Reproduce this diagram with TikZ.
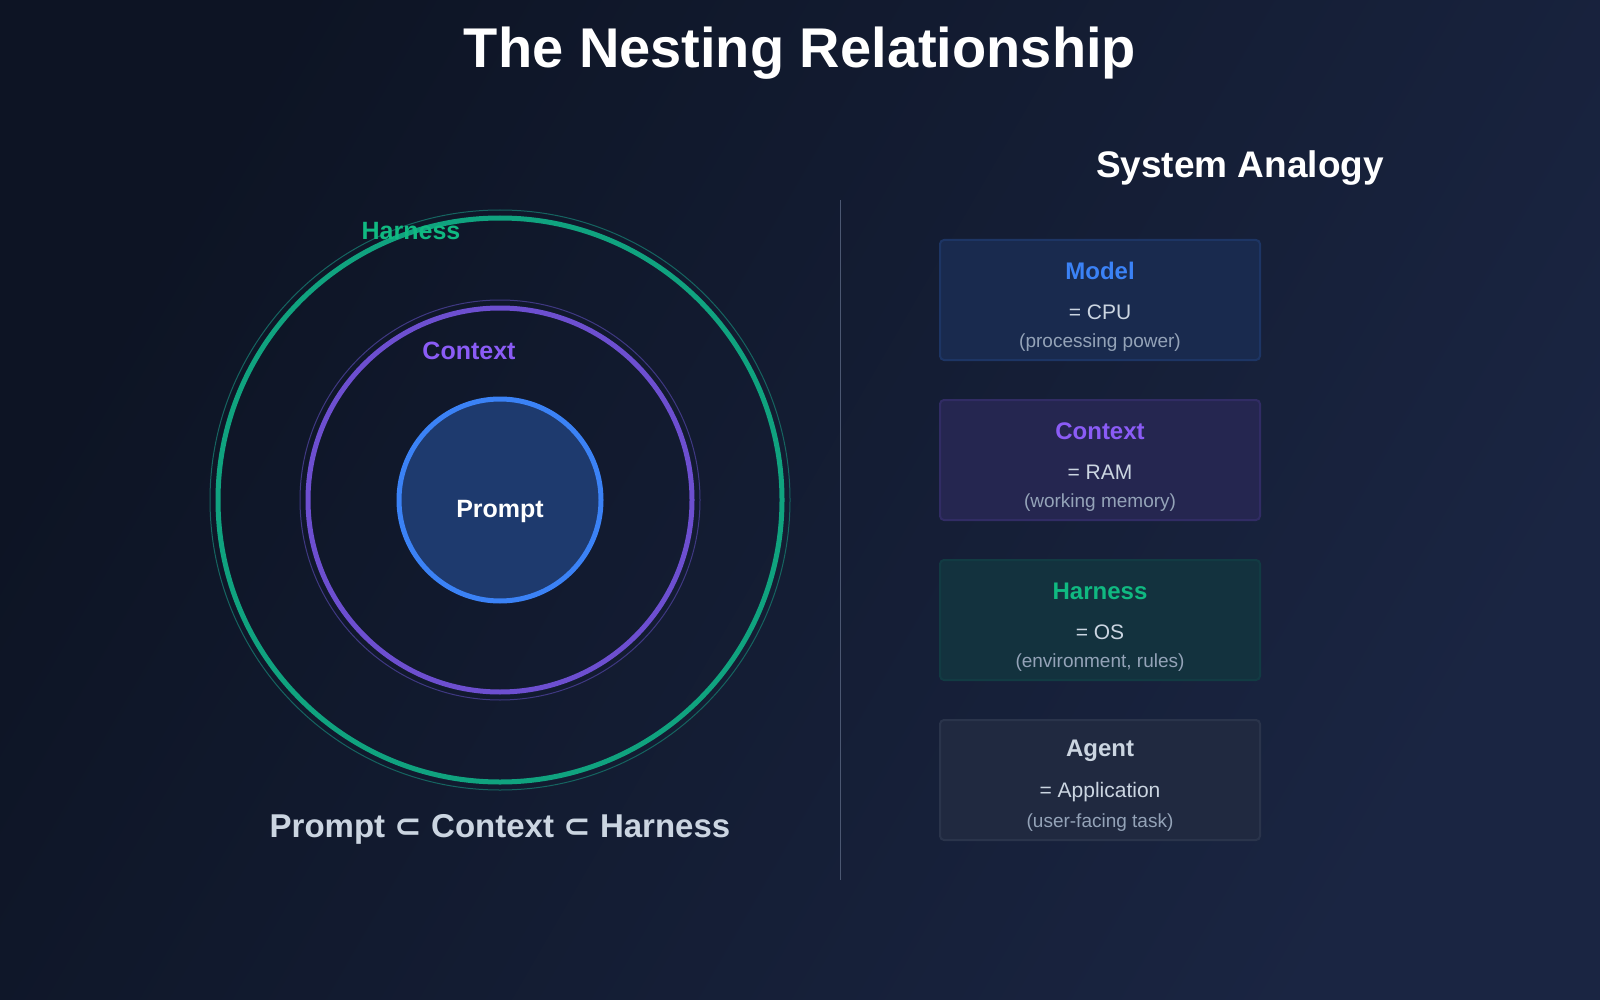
\documentclass[tikz,border=0pt]{standalone}
\usepackage{fontspec}
\setmainfont{Liberation Sans}
\newfontfamily\symf{DejaVu Sans}
\definecolor{bgA}{HTML}{0D1424}
\definecolor{bgB}{HTML}{1A2542}
\definecolor{hg}{HTML}{10A37F}
\definecolor{hgt}{HTML}{10B981}
\definecolor{cp}{HTML}{6D4FD0}
\definecolor{cpt}{HTML}{8B5CF6}
\definecolor{pb}{HTML}{3B82F6}
\definecolor{pfill}{HTML}{1E3A6E}
\definecolor{txt}{HTML}{CBD5E1}
\definecolor{sub}{HTML}{94A3B8}
\definecolor{boxbg}{HTML}{131C33}
\tikzset{
 box/.style={rounded corners=4pt,line width=2pt,minimum width=320pt,minimum height=120pt},
 head/.style={font=\bfseries\fontsize{24}{28}\selectfont},
 eq/.style={font=\fontsize{21}{25}\selectfont,text=txt},
 sb/.style={font=\fontsize{19}{23}\selectfont,text=sub}
}
\begin{document}
\begin{tikzpicture}[x=1pt,y=-1pt]
\shade[left color=bgA,right color=bgB,shading angle=60] (0,0) rectangle (1600,1000);
\useasboundingbox (0,0) rectangle (1600,1000);
\node[text=white,font=\bfseries\fontsize{56}{60}\selectfont] (title) at (800,53) {The Nesting Relationship};
% circles
\coordinate (c) at (500,500);
\draw[hg!50!bgB,line width=1pt] (c) circle (290);
\draw[hg,line width=5pt] (c) circle (282);
\draw[cp!45!bgB,line width=1pt] (c) circle (200);
\draw[cp,line width=5pt] (c) circle (192);
\draw[pb,line width=5pt,fill=pfill] (c) circle (101);
\node[text=white,font=\bfseries\fontsize{25}{30}\selectfont] (p) at (500,511) {Prompt};
\node[text=hgt,font=\bfseries\fontsize{25}{30}\selectfont] (h) at (411,231) {Harness};
\node[text=cpt,font=\bfseries\fontsize{25}{30}\selectfont] (cx) at (469,351) {Context};
\node[text=txt,font=\bfseries\fontsize{33}{38}\selectfont] (f) at (500,829) {Prompt {\symf ⊂} Context {\symf ⊂} Harness};
% divider
\draw[sub!40!bgB,line width=1pt] (840,200) -- (840,880);
\node[text=white,font=\bfseries\fontsize{37}{42}\selectfont] (sa) at (1240,168) {System Analogy};
% boxes
\node[box,draw=pb!25!boxbg,fill=pb!14!boxbg] (b1) at (1100,300) {};
\node[box,draw=cpt!25!boxbg,fill=cpt!15!boxbg] (b2) at (1100,460) {};
\node[box,draw=hgt!20!boxbg,fill=hgt!14!boxbg] (b3) at (1100,620) {};
\node[box,draw=sub!18!boxbg,fill=sub!10!boxbg] (b4) at (1100,780) {};
\foreach \b/\t/\c/\e/\s in {b1/Model/pb/= CPU/(processing power),b2/Context/cpt/= RAM/(working memory),b3/Harness/hgt/= OS/{(environment, rules)},b4/Agent/txt/= Application/(user-facing task)}{
 \node[head,text=\c] (\b h) at ([yshift=-32pt]\b.north) {\t};
 \node[eq] (\b e) at ([yshift=-73pt]\b.north) {\e};
 \node[sb] (\b s) at ([yshift=-104pt]\b.north) {\s};
}
\end{tikzpicture}
\end{document}
